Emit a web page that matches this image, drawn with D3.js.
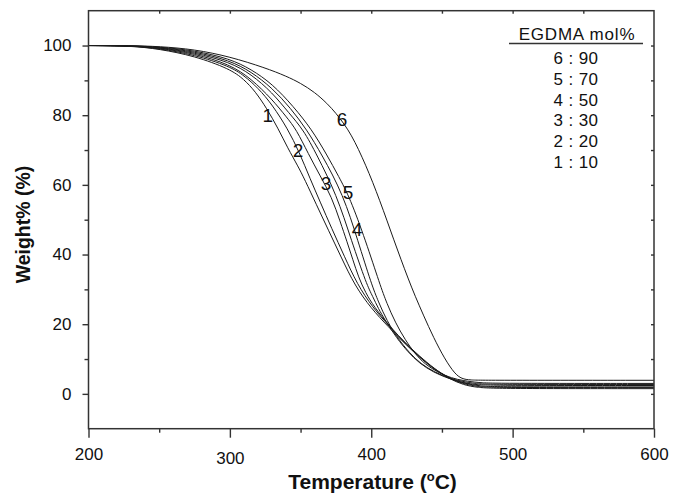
<!DOCTYPE html>
<html>
<head>
<meta charset="utf-8">
<script src="https://cdn.jsdelivr.net/npm/d3@7"></script>
<style>
  html, body { margin: 0; padding: 0; background: #fff; }
  svg { display: block; font-family: "Liberation Sans", Arial, sans-serif; }
</style>
</head>
<body>
<svg id="chart" width="688" height="494"></svg>
<script>
// TGA curves: weight % vs temperature (°C), one curve per EGDMA content
const curve1 = [[200,100],[230,99.9],[250,99.0],[275,97.0],[300,93.3],[310,90.3],[318,86.8],[326,82],[334,76.3],[341,70.5],[348,65.5],[353,61.5],[361,54.5],[369.6,47.1],[379,39],[388.5,31],[400,24.5],[412,19.3],[424,14.3],[436,9.8],[446,6.6],[456,4.2],[465,2.6],[475,1.8],[490,1.5],[600,1.5]];
const curve2 = [[200,100],[230,99.92],[250,99.15],[275,97.35],[300,94],[310,91.4],[320,87.8],[330,83],[341,76],[349,69.5],[357,61.5],[364,55],[372,47.5],[381,39.5],[390,31.5],[401,24.8],[413,19.3],[425,14],[437,9.6],[447,6.4],[457,4.1],[466,2.8],[476,2.0],[490,1.8],[600,1.8]];
const curve3 = [[200,100],[230,99.93],[250,99.3],[275,97.7],[300,94.6],[315,90.5],[330,84.5],[340,79.5],[347,75.9],[355.5,68.9],[364,62.5],[372,56.5],[378,49.5],[383,43.5],[387,38.5],[391,33.5],[396,29],[402,25],[413,19.4],[425,14.2],[437,9.8],[447,6.5],[457,4.2],[466,3.0],[477,2.2],[490,2.0],[600,2.0]];
const curve3b = [[200,100],[230,99.94],[250,99.4],[275,98.0],[300,95.2],[315,91.8],[330,86.5],[342,80.5],[351.9,75.9],[361.4,68.7],[375.5,57.2],[386,44],[396.8,31.3],[401,28],[405,24.5],[410,21],[418,16],[426,12],[434,8.8],[444,6.2],[454,4.5],[463,3.4],[472,2.7],[485,2.4],[600,2.4]];
const curve4 = [[200,100],[230,99.95],[250,99.5],[275,98.3],[300,95.7],[315,92.5],[330,87.8],[343,82],[354.3,75.9],[365,68.7],[380.2,57.2],[390.5,44],[400.3,31.3],[405,26.5],[411,21],[419,15.8],[427,11.8],[435,8.6],[445,6.2],[455,4.5],[464,3.6],[474,2.9],[487,2.7],[600,2.7]];
const curve5 = [[200,100],[230,99.96],[250,99.6],[275,98.6],[300,96.2],[315,93.2],[330,89],[345,82.5],[357.9,75.9],[368.5,68.7],[377,62.4],[385,56.2],[396,44],[406.2,31.3],[411,26],[417,20.5],[424,15.5],[431,11.5],[438,8.5],[447,6.2],[457,4.5],[465,3.8],[476,3.2],[488,3.0],[600,3.0]];
const curve6 = [[200,100],[230,99.97],[250,99.75],[275,98.9],[300,96.8],[325,93.6],[340,91.2],[350,89.2],[360,86.6],[369,83.3],[375,80.6],[381,77.4],[386,74.2],[391,70.2],[396,65.7],[401,60.8],[406,55.5],[411,49.9],[416,44.2],[421,38.6],[426,33.2],[431,28.1],[437,22.5],[444,16.2],[452,10],[459,5.8],[464,4.3],[470,3.95],[480,3.9],[600,3.9]];

const curves = [curve1, curve2, curve3, curve3b, curve4, curve5, curve6];

// curve tags and where each tag sits, in data units (°C, %)
const tagText = ["1", "2", "3", "5", "4", "6"];
const tagAt   = [[326.9,79.9],[348.2,70.1],[368,60.6],[383.5,57.8],[389.9,47.4],[379.3,79.0]];

// legend: curve number : EGDMA mol%
const legendIds = [6, 5, 4, 3, 2, 1];
const legendMol = [90, 70, 50, 30, 20, 10];

const xTicks = [200, 300, 400, 500, 600];
const xMinor = [250, 350, 450, 550];
const yTicks = [0, 20, 40, 60, 80, 100];
const yMinor = [10, 30, 50, 70, 90];
const topTicks = [250, 300, 350, 400, 450, 500, 550];
const rightTicks = [0, 10, 20, 30, 40, 50, 60, 70, 80, 90, 100];

const svg = d3.select("#chart");
const L = 88.5, R = 654, T = 10.7, B = 428.7;
const x = d3.scaleLinear().domain([200, 600]).range([L, R]);
const y = d3.scaleLinear().domain([-10, 110]).range([B, T]);

const axisColor = "#333";
const ink = "#1a1a1a";

// curves
const line = d3.line().x(d => x(d[0])).y(d => y(d[1])).curve(d3.curveBasis);
svg.append("g").selectAll("path").data(curves).join("path")
  .attr("d", line)
  .attr("fill", "none")
  .attr("stroke", ink)
  .attr("stroke-width", 1);

// curve tags
svg.append("g").selectAll("text").data(tagText).join("text")
  .attr("x", (d, i) => x(tagAt[i][0]))
  .attr("y", (d, i) => y(tagAt[i][1]))
  .attr("dy", "0.36em")
  .attr("text-anchor", "middle")
  .attr("font-size", 19)
  .attr("fill", "#111")
  .text(d => d);

// axes
function styleAxis(g) {
  g.select(".domain").remove();
  g.selectAll(".tick line").attr("stroke", axisColor).attr("stroke-width", 1.4);
  g.selectAll(".tick text").attr("fill", "#111").attr("font-size", 17)
    .attr("font-family", "\"Liberation Sans\", Arial, sans-serif");
}

const gx = svg.append("g").attr("transform", `translate(0,${B})`)
  .call(d3.axisBottom(x).tickValues(xTicks).tickSize(9).tickPadding(9));
styleAxis(gx);
gx.selectAll(".tick text").attr("dy", (d) => d === 300 ? "1.0em" : "0.76em");

const gxm = svg.append("g").attr("transform", `translate(0,${B})`)
  .call(d3.axisBottom(x).tickValues(xMinor).tickSize(4).tickFormat(""));
styleAxis(gxm);

const gy = svg.append("g").attr("transform", `translate(${L},0)`)
  .call(d3.axisLeft(y).tickValues(yTicks).tickSize(6).tickPadding(11));
styleAxis(gy);

const gym = svg.append("g").attr("transform", `translate(${L},0)`)
  .call(d3.axisLeft(y).tickValues(yMinor).tickSize(4).tickFormat(""));
styleAxis(gym);

const gt = svg.append("g").attr("transform", `translate(0,${T})`)
  .call(d3.axisBottom(x).tickValues(topTicks).tickSize(3).tickFormat(""));
styleAxis(gt);

const gr = svg.append("g").attr("transform", `translate(${R},0)`)
  .call(d3.axisRight(y).tickValues(rightTicks).tickSize(-3).tickFormat(""));
styleAxis(gr);

// frame
svg.append("rect")
  .attr("x", L).attr("y", T).attr("width", R - L).attr("height", B - T)
  .attr("fill", "none").attr("stroke", axisColor).attr("stroke-width", 1.5);

// axis titles
const xt = svg.append("text")
  .attr("x", 372.5).attr("y", 489)
  .attr("text-anchor", "middle")
  .attr("font-size", 21).attr("font-weight", "bold").attr("fill", "#111");
xt.append("tspan").text("Temperature (");
xt.append("tspan").attr("dy", -8).attr("font-size", 13).text("o");
xt.append("tspan").attr("dy", 8).text("C)");

svg.append("text")
  .attr("transform", "translate(29.5,224.5) rotate(-90)")
  .attr("text-anchor", "middle")
  .attr("font-size", 19.5).attr("font-weight", "bold").attr("fill", "#111")
  .text("Weight% (%)");

// legend
const lg = svg.append("g").attr("fill", "#111");
lg.append("text")
  .attr("x", 577).attr("y", 40)
  .attr("text-anchor", "middle")
  .attr("font-size", 17).attr("letter-spacing", 0.8)
  .text("EGDMA mol%");
lg.append("line")
  .attr("x1", 509).attr("x2", 643).attr("y1", 43.5).attr("y2", 43.5)
  .attr("stroke", axisColor).attr("stroke-width", 1.4);
lg.selectAll("text.entry").data(legendIds).join("text")
  .attr("class", "entry")
  .attr("x", 576)
  .attr("y", (d, i) => 64 + i * 20.75)
  .attr("text-anchor", "middle")
  .attr("font-size", 17).attr("letter-spacing", 0.4)
  .text((d, i) => `${d} : ${legendMol[i]}`);
</script>
</body>
</html>
